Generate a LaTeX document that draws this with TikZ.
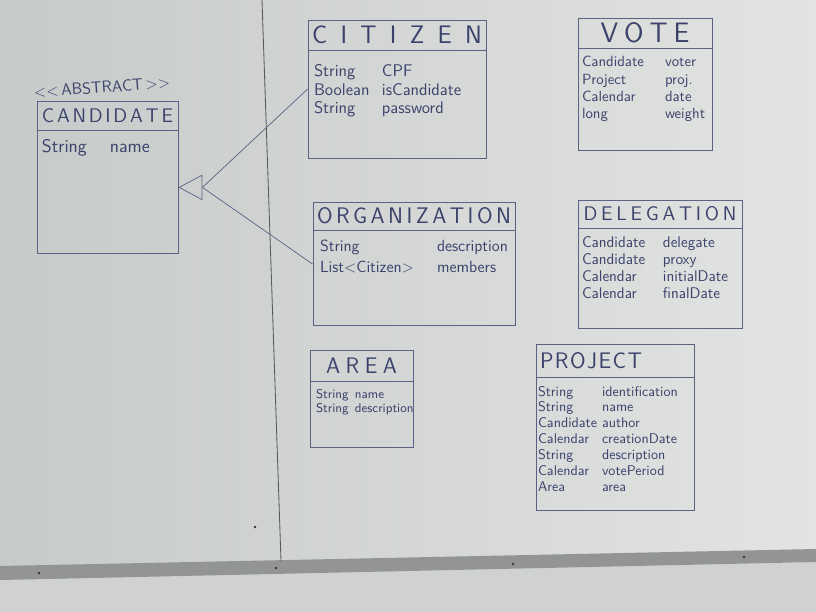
\documentclass[tikz,border=0pt]{standalone}
\usepackage{tikz}
\usetikzlibrary{positioning, arrows.meta}
\newlength{\px}
\setlength{\px}{0.025cm}
\definecolor{ink}{RGB}{58,66,108}
\definecolor{pen}{RGB}{92,98,132}
\definecolor{boardl}{RGB}{198,202,200}
\definecolor{boardr}{RGB}{226,228,226}
\definecolor{floor}{RGB}{208,210,210}
\definecolor{tray}{RGB}{146,148,150}
\newcommand{\spaced}[2]{{\spaceskip=0pt plus 1fil\makebox[#1][s]{#2}}}
\newcommand{\fields}[6]{\parbox[c][#2][t]{#1}{\vspace*{#4}\hspace*{#3}\begin{tabular}[t]{@{}p{#5}@{}l@{}}#6\end{tabular}}}

\begin{document}
\begin{tikzpicture}[x=0.025cm, y=-0.025cm,
  head/.style={draw=pen, line width=0.6pt, inner sep=0pt, text=ink},
  body/.style={draw=pen, line width=0.6pt, inner sep=0pt, text=ink},
  stereo/.style={inner sep=0pt, text=ink, font=\sffamily\fontsize{11.5}{11.5}\selectfont},
  link/.style={draw=pen, line width=0.5pt}]
\useasboundingbox (0,0) rectangle (816,612);
\shade[left color=boardl, right color=boardr] (0,0) rectangle (816,612);
\fill[floor] (0,580) -- (816,562) -- (816,612) -- (0,612) -- cycle;
\fill[tray] (0,566) -- (816,549) -- (816,562) -- (0,580) -- cycle;
\draw[black!65, line width=0.6pt] (262,0) -- (281,561);
\foreach \sx/\sy in {39/573, 276/568, 513/564, 744/557, 255/527}
  \fill[black!80] (\sx,\sy) circle (1.3\px);

\node[head, minimum width=141\px, minimum height=29\px, font=\sffamily\fontsize{14}{14}\selectfont] (candidate) at (107.5,115.5) {\spaced{131\px}{C A N D I D A T E}};
\node[body, below=0pt of candidate, font=\sffamily\fontsize{13}{15}\selectfont] (candidatebody) {\fields{141\px}{123\px}{5\px}{5pt}{68\px}{String & name}};
\node[stereo, above=7\px of candidate, xshift=-5\px, rotate=4] (abstract) {\textless\kern0pt\textless\,ABSTRACT\,\textgreater\kern0pt\textgreater};

\node[head, minimum width=178\px, minimum height=30\px, font=\sffamily\fontsize{18}{18}\selectfont] (citizen) at (397,35) {\spaced{170\px}{C I T I Z E N}};
\node[body, below=0pt of citizen, font=\sffamily\fontsize{12}{13.2}\selectfont] (citizenbody) {\fields{178\px}{108\px}{6\px}{9pt}{68\px}{String & CPF\\ Boolean & isCandidate\\ String & password}};

\node[head, minimum width=134\px, minimum height=30\px, font=\sffamily\fontsize{20}{20}\selectfont] (vote) at (645,33) {\spaced{89\px}{V O T E}};
\node[body, below=0pt of vote, font=\sffamily\fontsize{10.5}{12.4}\selectfont] (votebody) {\fields{134\px}{102\px}{4\px}{4pt}{83\px}{Candidate & voter\\ Project & proj.\\ Calendar & date\\ long & weight}};

\node[head, minimum width=202\px, minimum height=28\px, font=\sffamily\fontsize{16}{16}\selectfont] (organization) at (414,216) {\spaced{194\px}{O R G A N I Z A T I O N}};
\node[body, below=0pt of organization, font=\sffamily\fontsize{11.5}{15}\selectfont] (organizationbody) {\fields{202\px}{95\px}{7\px}{4pt}{117\px}{String & description\\ List\textless Citizen\textgreater & members}};

\node[head, minimum width=164\px, minimum height=28\px, font=\sffamily\fontsize{14}{14}\selectfont] (delegation) at (660,214) {\spaced{153\px}{D E L E G A T I O N}};
\node[body, below=0pt of delegation, font=\sffamily\fontsize{11}{12}\selectfont] (delegationbody) {\fields{164\px}{100\px}{4\px}{5pt}{81\px}{Candidate & delegate\\ Candidate & proxy\\ Calendar & initialDate\\ Calendar & finalDate}};

\node[head, minimum width=103\px, minimum height=31\px, font=\sffamily\fontsize{16}{16}\selectfont] (area) at (361.5,365.5) {\spaced{71\px}{A R E A}};
\node[body, below=0pt of area, font=\sffamily\fontsize{9}{10}\selectfont] (areabody) {\fields{103\px}{66\px}{6\px}{5pt}{39\px}{String & name\\ String & description}};

\node[head, minimum width=158\px, minimum height=33\px, font=\sffamily\fontsize{16}{16}\selectfont] (project) at (615,360.5) {\spaced{102\px}{P R O J E C T}\hspace*{48\px}};
\node[body, below=0pt of project, font=\sffamily\fontsize{10}{11.3}\selectfont] (projectbody) {\fields{158\px}{133\px}{2\px}{5pt}{64\px}{String & identification\\ String & name\\ Candidate & author\\ Calendar & creationDate\\ String & description\\ Calendar & votePeriod\\ Area & area}};

\coordinate (gen) at ([xshift=24\px]candidatebody.4);
\draw[link] (citizenbody.170) -- (gen);
\draw[link] (organizationbody.172) -- (gen);
\draw[link, -{Triangle[open, length=17pt, width=18pt]}] (gen) -- (candidatebody.4);
\end{tikzpicture}
\end{document}
